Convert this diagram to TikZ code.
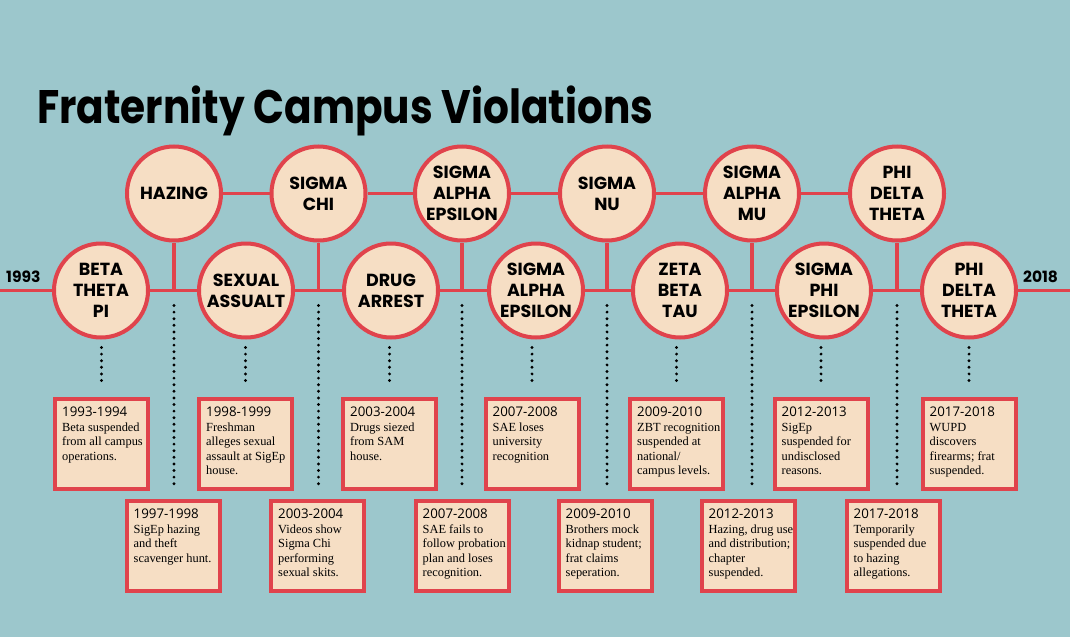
\documentclass[tikz,border=0pt]{standalone}
\usepackage{fontspec}
\usepackage{graphicx}
\usetikzlibrary{backgrounds}
\setmainfont{Liberation Serif}
\newfontfamily\geofont{Poppins}
\newfontfamily\yrfontfam{Open Sans}
\definecolor{bg}{RGB}{156,199,204}
\definecolor{vred}{RGB}{224,67,76}
\definecolor{peach}{RGB}{246,222,196}
\newcommand\evyear{\yrfontfam\fontsize{13.3}{14.5}\selectfont}
\newcommand\evbody{\rmfamily\fontsize{12.4}{14.4}\selectfont}
\newcommand\evtext[2]{\parbox[t]{92pt}{\raggedright\evyear #1\\[0.8pt]\evbody #2}}
\tikzset{
  org/.style={circle, draw=vred, fill=peach, line width=4pt, minimum size=94pt, inner sep=0pt, align=center,
    font=\geofont\bfseries\fontsize{17.5}{21}\selectfont},
  evbox/.style={rectangle, draw=vred, fill=peach, line width=4pt, minimum width=93pt, minimum height=90pt, inner sep=0pt},
  link/.style={draw=vred, line width=3.5pt},
  dots/.style={draw=black, line width=3.2pt, dash pattern=on 0pt off 6.6pt, line cap=round},
  evtxt/.style={anchor=base west, inner sep=0pt},
  yearlbl/.style={anchor=base west, inner sep=0pt, font=\geofont\bfseries\fontsize{15.5}{18}\selectfont},
}
\begin{document}
\begin{tikzpicture}[x=1pt,y=-1pt]
\useasboundingbox (0,0) rectangle (1070,637);
% title
\node[anchor=base west, inner sep=0pt, font=\geofont\bfseries\fontsize{47}{50}\selectfont] (title) at (37,123)
  {\resizebox{616pt}{\height}{Fraternity Campus Violations}};
% end labels
\node[yearlbl] (ystart) at (6,282) {1993};
\node[yearlbl] (yend) at (1023,282) {2018};
% timeline coordinates
\coordinate (tlA) at (0,290.5);
\coordinate (tlB) at (1070,290.5);
\coordinate (j1) at (174,290.5);
\coordinate (j2) at (318.5,290.5);
\coordinate (j3) at (462,290.5);
\coordinate (j4) at (607,290.5);
\coordinate (j5) at (752,290.5);
\coordinate (j6) at (897,290.5);
% upper circles
\node[org] (U1) at (174,193.5) {HAZING};
\node[org] (U2) at (318.5,193.5) {SIGMA\\CHI};
\node[org] (U3) at (462,193.5) {SIGMA\\ALPHA\\EPSILON};
\node[org] (U4) at (607,193.5) {SIGMA\\NU};
\node[org] (U5) at (752,193.5) {SIGMA\\ALPHA\\MU};
\node[org] (U6) at (897,193.5) {PHI\\DELTA\\THETA};
% lower circles
\node[org] (L1) at (101,290.5) {BETA\\THETA\\PI};
\node[org] (L2) at (246,290.5) {SEXUAL\\ASSUALT};
\node[org] (L3) at (391,290.5) {DRUG\\ARREST};
\node[org] (L4) at (536,290.5) {SIGMA\\ALPHA\\EPSILON};
\node[org] (L5) at (680,290.5) {ZETA\\BETA\\TAU};
\node[org] (L6) at (824,290.5) {SIGMA\\PHI\\EPSILON};
\node[org] (L7) at (969,290.5) {PHI\\DELTA\\THETA};
% connectors (behind)
\begin{pgfonlayer}{background}
\fill[bg] (0,0) rectangle (1070,637);
\path[link] (tlA) -- (L1) -- (j1) -- (L2) -- (j2) -- (L3) -- (j3) -- (L4) -- (j4) -- (L5) -- (j5) -- (L6) -- (j6) -- (L7) -- (tlB);
\path[link] (U1) -- (U2) -- (U3) -- (U4) -- (U5) -- (U6);
\path[link] (U1) -- (j1);
\path[link] (U2) -- (j2);
\path[link] (U3) -- (j3);
\path[link] (U4) -- (j4);
\path[link] (U5) -- (j5);
\path[link] (U6) -- (j6);
\end{pgfonlayer}
% upper-row boxes
\node[evbox] (B1) at (101.5,444) {};
\node[evbox] (B2) at (245.5,444) {};
\node[evbox] (B3) at (389.5,444) {};
\node[evbox] (B4) at (532,444) {};
\node[evbox] (B5) at (676.5,444) {};
\node[evbox] (B6) at (821,444) {};
\node[evbox] (B7) at (969,444) {};
% lower-row boxes
\node[evbox] (D1) at (173,546) {};
\node[evbox] (D2) at (317.5,546) {};
\node[evbox] (D3) at (462,546) {};
\node[evbox] (D4) at (605,546) {};
\node[evbox] (D5) at (748,546) {};
\node[evbox] (D6) at (893,546) {};
% texts
\node[evtxt] (TB1) at ([xshift=9pt,yshift=-19pt]B1.north west) {\evtext{1993-1994}{Beta suspended\\from all campus\\operations.}};
\node[evtxt] (TB2) at ([xshift=9pt,yshift=-19pt]B2.north west) {\evtext{1998-1999}{Freshman\\alleges sexual\\assault at SigEp\\house.}};
\node[evtxt] (TB3) at ([xshift=9pt,yshift=-19pt]B3.north west) {\evtext{2003-2004}{Drugs siezed\\from SAM\\house.}};
\node[evtxt] (TB4) at ([xshift=9pt,yshift=-19pt]B4.north west) {\evtext{2007-2008}{SAE loses\\university\\recognition}};
\node[evtxt] (TB5) at ([xshift=9pt,yshift=-19pt]B5.north west) {\evtext{2009-2010}{ZBT recognition\\suspended at\\national/\\campus levels.}};
\node[evtxt] (TB6) at ([xshift=9pt,yshift=-19pt]B6.north west) {\evtext{2012-2013}{SigEp\\suspended for\\undisclosed\\reasons.}};
\node[evtxt] (TB7) at ([xshift=9pt,yshift=-19pt]B7.north west) {\evtext{2017-2018}{WUPD\\discovers\\firearms; frat\\suspended.}};
\node[evtxt] (TD1) at ([xshift=9pt,yshift=-19pt]D1.north west) {\evtext{1997-1998}{SigEp hazing\\and theft\\scavenger hunt.}};
\node[evtxt] (TD2) at ([xshift=9pt,yshift=-19pt]D2.north west) {\evtext{2003-2004}{Videos show\\Sigma Chi\\performing\\sexual skits.}};
\node[evtxt] (TD3) at ([xshift=9pt,yshift=-19pt]D3.north west) {\evtext{2007-2008}{SAE fails to\\follow probation\\plan and loses\\recognition.}};
\node[evtxt] (TD4) at ([xshift=9pt,yshift=-19pt]D4.north west) {\evtext{2009-2010}{Brothers mock\\kidnap student;\\frat claims\\seperation.}};
\node[evtxt] (TD5) at ([xshift=9pt,yshift=-19pt]D5.north west) {\evtext{2012-2013}{Hazing, drug use\\and distribution;\\chapter\\suspended.}};
\node[evtxt] (TD6) at ([xshift=9pt,yshift=-19pt]D6.north west) {\evtext{2017-2018}{Temporarily\\suspended due\\to hazing\\allegations.}};
% short dotted lines (circle to upper-row box)
\draw[dots] ([yshift=-8pt]B1.north |- L1.south) -- ([yshift=10pt]B1.north);
\draw[dots] ([yshift=-8pt]B2.north |- L2.south) -- ([yshift=10pt]B2.north);
\draw[dots] ([yshift=-8pt]B3.north |- L3.south) -- ([yshift=10pt]B3.north);
\draw[dots] ([yshift=-8pt]B4.north |- L4.south) -- ([yshift=10pt]B4.north);
\draw[dots] ([yshift=-8pt]B5.north |- L5.south) -- ([yshift=10pt]B5.north);
\draw[dots] ([yshift=-8pt]B6.north |- L6.south) -- ([yshift=10pt]B6.north);
\draw[dots] ([yshift=-8pt]B7.north |- L7.south) -- ([yshift=10pt]B7.north);
% long dotted lines (junction to lower-row box)
\draw[dots] ([yshift=-15pt]j1) -- ([yshift=11pt]j1 |- D1.north);
\draw[dots] ([yshift=-15pt]j2) -- ([yshift=11pt]j2 |- D2.north);
\draw[dots] ([yshift=-15pt]j3) -- ([yshift=11pt]j3 |- D3.north);
\draw[dots] ([yshift=-15pt]j4) -- ([yshift=11pt]j4 |- D4.north);
\draw[dots] ([yshift=-15pt]j5) -- ([yshift=11pt]j5 |- D5.north);
\draw[dots] ([yshift=-15pt]j6) -- ([yshift=11pt]j6 |- D6.north);
\end{tikzpicture}
\end{document}
